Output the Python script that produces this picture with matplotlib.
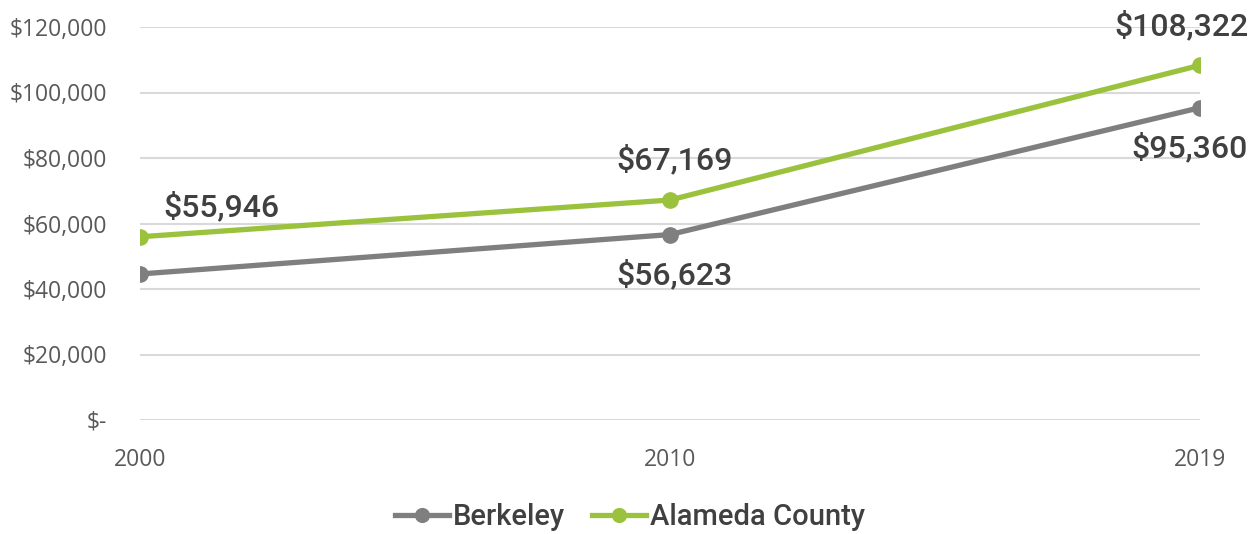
import matplotlib.pyplot as plt
from matplotlib.ticker import FuncFormatter

# data
years = ['2000', '2010', '2019']
berkeley = [44584, 56623, 95360]
alameda = [55946, 67169, 108322]
yticks = [0, 20000, 40000, 60000, 80000, 100000, 120000]

gray = '#7f7f7f'
green = '#9bc23c'
txt = '#404040'

fig = plt.figure(figsize=(12.6, 5.34), dpi=100)
ax = fig.add_axes([140 / 1260, 1 - 420 / 534, 1060 / 1260, 393 / 534])

x = list(range(len(years)))
ax.plot(x, berkeley, color=gray, lw=3.8, marker='o', ms=11, label='Berkeley', zorder=3)
ax.plot(x, alameda, color=green, lw=3.8, marker='o', ms=11, label='Alameda County', zorder=3)

ax.set_xlim(0, 2)
ax.set_ylim(0, 120000)
ax.set_xticks(x)
ax.set_xticklabels(years)
ax.set_yticks(yticks)
ax.yaxis.set_major_formatter(FuncFormatter(lambda v, p: '$-' if v == 0 else f'${v:,.0f}'))
ax.grid(axis='y', color='#d9d9d9', lw=1.5)
ax.set_axisbelow(True)
for s in ax.spines.values():
    s.set_visible(False)
ax.tick_params(length=0, labelsize=16.5, labelcolor='#595959', labelfontfamily='Open Sans')
ax.tick_params(axis='x', pad=20)
ax.tick_params(axis='y', pad=24)

# data labels
lab = dict(textcoords='offset pixels', fontsize=23, color=txt, family='Roboto',
           weight='medium', va='center')
ax.annotate('$55,946', (0, alameda[0]), xytext=(23, 30), ha='left', **lab)
ax.annotate('$67,169', (1, alameda[1]), xytext=(5, 40), ha='center', **lab)
ax.annotate('$56,623', (1, berkeley[1]), xytext=(5, -40), ha='center', **lab)
ax.annotate('$108,322', (2, alameda[2]), xytext=(48, 39), ha='right', **lab)
ax.annotate('$95,360', (2, berkeley[2]), xytext=(48, -40), ha='right', **lab)

leg = fig.legend(loc='center', bbox_to_anchor=(0.5, 1 - 517 / 534), ncol=2, frameon=False,
                 prop={'family': 'Roboto', 'size': 21, 'weight': 'medium'},
                 handlelength=1.85, columnspacing=0.9, handletextpad=0.15, labelcolor=txt,
                 markerscale=0.9)

fig.savefig('out.png', dpi=100)
